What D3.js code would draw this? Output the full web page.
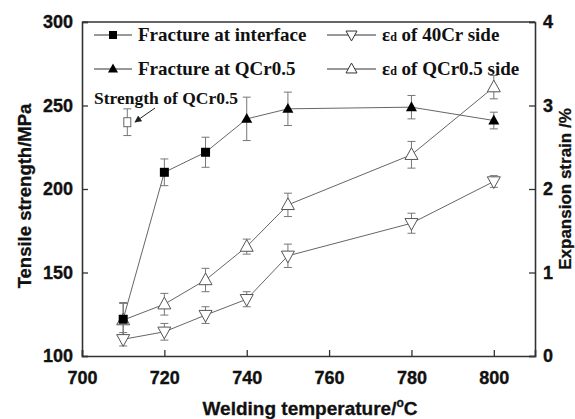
<!DOCTYPE html>
<html><head><meta charset="utf-8">
<script src="https://cdn.jsdelivr.net/npm/d3@7"></script>
<style>body{margin:0;background:#fff}svg{display:block}</style>
</head><body><svg id="c" width="575" height="419"></svg>
<script>
// Data
const interfaceT = [710, 720, 730];
const interfaceS = [122, 210, 222];
const interfaceErr = [10, 8, 9];
const qcrT = [740, 750, 780, 800];
const qcrS = [242, 248, 249, 241];
const qcrErr = [13, 10, 7, 5];
const qcrStrengthT = [711];
const qcrStrength = [240];
const qcrStrengthErr = [8];
const strainT = [710, 720, 730, 740, 750, 780, 800];
const strain40Cr = [0.20, 0.29, 0.49, 0.68, 1.20, 1.59, 2.09];
const strain40CrErr = [0.08, 0.10, 0.10, 0.09, 0.14, 0.12, 0.07];
const strainQCr = [0.43, 0.62, 0.91, 1.31, 1.81, 2.41, 3.22];
const strainQCrErr = [0.2, 0.13, 0.14, 0.09, 0.14, 0.16, 0.14];
const xTicks = [700, 720, 740, 760, 780, 800];
const yTicks = [100, 150, 200, 250, 300];
const y2Ticks = [0, 1, 2, 3, 4];

const svg = d3.select("#c");
const L = 82, R = 535, T = 22, B = 356;
const x = d3.scaleLinear().domain([700, 810]).range([L, R]);
const y = d3.scaleLinear().domain([100, 300]).range([B, T]);
const y2 = d3.scaleLinear().domain([0, 4]).range([B, T]);
const lineC = "#666", errC = "#777";
const sans = "'Liberation Sans', Arial, sans-serif";
const serif = "'Liberation Serif', 'Times New Roman', serif";

// Frame
svg.append("line").attr("x1", L).attr("x2", R).attr("y1", T).attr("y2", T).attr("stroke", "#333").attr("stroke-width", 1.3);
const axL = svg.append("g").attr("transform", `translate(${L},0)`).call(d3.axisLeft(y).tickValues(yTicks).tickSize(-6).tickPadding(9));
const axR = svg.append("g").attr("transform", `translate(${R},0)`).call(d3.axisRight(y2).tickValues(y2Ticks).tickFormat(d3.format("d")).tickSize(-6).tickPadding(8));
const axB = svg.append("g").attr("transform", `translate(0,${B})`).call(d3.axisBottom(x).tickValues(xTicks).tickSize(-6).tickPadding(12));
[axL, axR, axB].forEach(g => {
  g.select(".domain").attr("stroke", "#333").attr("stroke-width", 1.6);
  g.selectAll(".tick line").attr("stroke", "#333").attr("stroke-width", 1.3);
  g.selectAll("text").style("font-family", sans).style("font-weight", "bold").style("font-size", "18px")
    .attr("fill", "#111").attr("stroke", "#111").attr("stroke-width", 0.35);
});
axB.selectAll(".tick text").attr("dy", "0.9em");

// Axis titles
function title(sel, fs) { return sel.style("font-family", sans).style("font-weight", "bold").style("font-size", fs + "px").attr("text-anchor", "middle").attr("fill", "#111").attr("stroke", "#111").attr("stroke-width", 0.3); }
title(svg.append("text").attr("transform", `translate(31,196) rotate(-90)`), 18.5).text("Tensile strength/MPa");
title(svg.append("text").attr("transform", `translate(571,189) rotate(-90)`), 17).text("Expansion strain /%");
const xt = title(svg.append("text").attr("x", 310).attr("y", 415), 19);
xt.append("tspan").text("Welding temperature/");
xt.append("tspan").style("font-size", "12px").attr("dy", -8).text("o");
xt.append("tspan").attr("dy", 8).text("C");

// Error bars
const ln = d3.line();
function errBars(ts, vs, es, sc) {
  const g = svg.append("g").attr("stroke", errC).attr("stroke-width", 1).attr("fill", "none");
  ts.forEach((t, i) => {
    const cx = x(t), top = sc(vs[i] + es[i]), bot = sc(vs[i] - es[i]);
    g.append("line").attr("x1", cx).attr("x2", cx).attr("y1", top).attr("y2", bot);
    g.append("line").attr("x1", cx - 4).attr("x2", cx + 4).attr("y1", top).attr("y2", top);
    g.append("line").attr("x1", cx - 4).attr("x2", cx + 4).attr("y1", bot).attr("y2", bot);
  });
}
errBars(interfaceT, interfaceS, interfaceErr, y);
errBars(qcrT, qcrS, qcrErr, y);
errBars(qcrStrengthT, qcrStrength, qcrStrengthErr, y);
errBars(strainT, strain40Cr, strain40CrErr, y2);
errBars(strainT, strainQCr, strainQCrErr, y2);

// Lines
const fracPts = interfaceT.map((t, i) => [x(t), y(interfaceS[i])]).concat(qcrT.map((t, i) => [x(t), y(qcrS[i])]));
svg.append("path").attr("d", ln(fracPts)).attr("fill", "none").attr("stroke", lineC).attr("stroke-width", 1);
svg.append("path").attr("d", ln(strainT.map((t, i) => [x(t), y2(strain40Cr[i])]))).attr("fill", "none").attr("stroke", lineC).attr("stroke-width", 1);
svg.append("path").attr("d", ln(strainT.map((t, i) => [x(t), y2(strainQCr[i])]))).attr("fill", "none").attr("stroke", lineC).attr("stroke-width", 1);

// Markers
function triPath(cx, cy, up, s) {
  const h = s * 0.9;
  return up ? `M${cx},${cy - h * 0.6}L${cx + s / 2},${cy + h * 0.4}L${cx - s / 2},${cy + h * 0.4}Z`
            : `M${cx},${cy + h * 0.6}L${cx + s / 2},${cy - h * 0.4}L${cx - s / 2},${cy - h * 0.4}Z`;
}
strainT.forEach((t, i) => {
  svg.append("path").attr("d", triPath(x(t), y2(strain40Cr[i]), false, 13)).attr("fill", "#fff").attr("stroke", "#555").attr("stroke-width", 1);
  svg.append("path").attr("d", triPath(x(t), y2(strainQCr[i]), true, 13)).attr("fill", "#fff").attr("stroke", "#555").attr("stroke-width", 1);
});
interfaceT.forEach((t, i) => {
  svg.append("rect").attr("x", x(t) - 4.5).attr("y", y(interfaceS[i]) - 4.5).attr("width", 9).attr("height", 9).attr("fill", "#000");
});
qcrT.forEach((t, i) => {
  svg.append("path").attr("d", triPath(x(t), y(qcrS[i]), true, 11)).attr("fill", "#000");
});
qcrStrengthT.forEach((t, i) => {
  svg.append("rect").attr("x", x(t) - 3.5).attr("y", y(qcrStrength[i]) - 4.5).attr("width", 7).attr("height", 9).attr("fill", "#fff").attr("stroke", "#666").attr("stroke-width", 1);
});

// Annotation
svg.append("text").attr("x", 94).attr("y", 104).style("font-family", serif).style("font-weight", "bold").style("font-size", "17.5px").attr("fill", "#111").text("Strength of QCr0.5");
svg.append("defs").append("marker").attr("id", "ah").attr("viewBox", "0 0 10 10").attr("refX", 9).attr("refY", 5)
  .attr("markerWidth", 7).attr("markerHeight", 7).attr("orient", "auto")
  .append("path").attr("d", "M0,0L10,5L0,10Z").attr("fill", "#222");
svg.append("line").attr("x1", 155).attr("y1", 108).attr("x2", 135).attr("y2", 122).attr("stroke", "#222").attr("stroke-width", 1).attr("marker-end", "url(#ah)");

// Legend
function legItem(x1, x2, ty, sym, label, eps) {
  svg.append("line").attr("x1", x1).attr("x2", x2).attr("y1", ty).attr("y2", ty).attr("stroke", "#333").attr("stroke-width", 1);
  const cx = (x1 + x2) / 2;
  if (sym === "sq") svg.append("rect").attr("x", cx - 4).attr("y", ty - 4).attr("width", 8).attr("height", 8).attr("fill", "#000");
  if (sym === "tri") svg.append("path").attr("d", triPath(cx, ty, true, 10)).attr("fill", "#000");
  if (sym === "down") svg.append("path").attr("d", triPath(cx, ty, false, 11)).attr("fill", "#fff").attr("stroke", "#333");
  if (sym === "up") svg.append("path").attr("d", triPath(cx, ty, true, 11)).attr("fill", "#fff").attr("stroke", "#333");
  const t = svg.append("text").attr("x", x2 + 6).attr("y", ty + 6).style("font-family", serif).style("font-weight", "bold").style("font-size", "19px").attr("fill", "#111");
  if (eps) {
    t.append("tspan").text("ε");
    t.append("tspan").style("font-size", "12px").text("d");
    t.append("tspan").text(" " + label);
  } else t.text(label);
}
legItem(94, 132, 35, "sq", "Fracture at interface", false);
legItem(94, 132, 69, "tri", "Fracture at QCr0.5", false);
legItem(327, 376, 35, "down", "of 40Cr side", true);
legItem(327, 376, 69, "up", "of QCr0.5 side", true);
</script></body></html>
